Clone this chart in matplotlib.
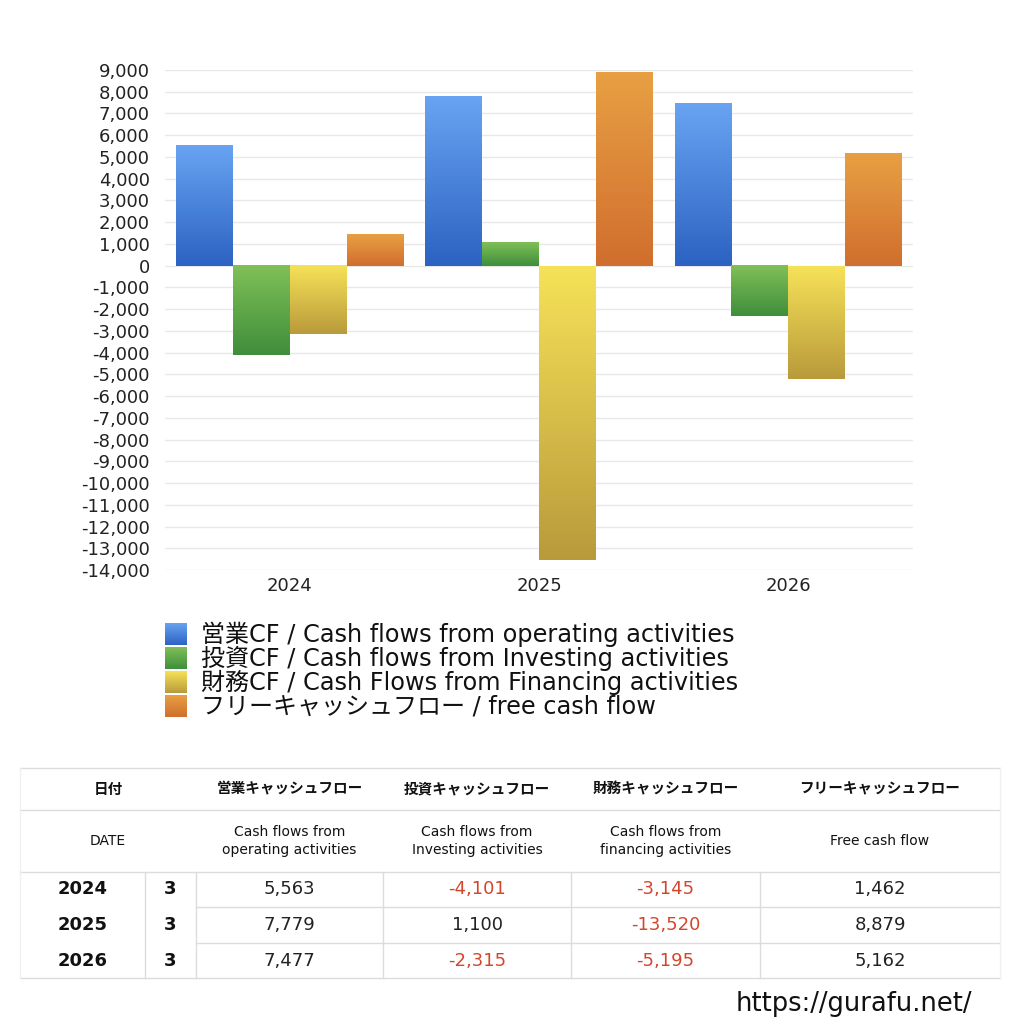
import numpy as np
import matplotlib
matplotlib.use("Agg")
import matplotlib.pyplot as plt
from matplotlib.colors import LinearSegmentedColormap
from matplotlib.ticker import FuncFormatter

plt.rcParams['font.family'] = ['DejaVu Sans', 'Noto Sans CJK JP']

# data
years = ["2024", "2025", "2026"]
months = ["3", "3", "3"]
operating = [5563, 7779, 7477]
investing = [-4101, 1100, -2315]
financing = [-3145, -13520, -5195]
free_cf = [1462, 8879, 5162]

legend_labels = [
    "営業CF / Cash flows from operating activities",
    "投資CF / Cash flows from Investing activities",
    "財務CF / Cash Flows from Financing activities",
    "フリーキャッシュフロー / free cash flow",
]
head_jp = ["日付", "営業キャッシュフロー", "投資キャッシュフロー", "財務キャッシュフロー", "フリーキャッシュフロー"]
head_en = ["DATE", "Cash flows from\noperating activities", "Cash flows from\nInvesting activities",
           "Cash flows from\nfinancing activities", "Free cash flow"]

# gradient colours (top, bottom)
grads = [("#68A4F2", "#2C62C2"), ("#80C058", "#3F8E3B"),
         ("#F6E258", "#B99A3B"), ("#E8A043", "#D06E2E")]

W = H = 1024
fig = plt.figure(figsize=(10.24, 10.24), dpi=100)


def px(x0, y0, x1, y1):
    # pixel box (top-left origin) -> figure fraction rect
    return [x0 / W, 1 - y1 / H, (x1 - x0) / W, (y1 - y0) / H]


ax = fig.add_axes(px(165, 70, 913, 570))
series = [operating, investing, financing, free_cf]
x = np.arange(len(years))
bw = 0.228
offsets = [-1.5 * bw, -0.5 * bw, 0.5 * bw, 1.5 * bw]
grad = np.linspace(0, 1, 256).reshape(-1, 1)
for vals, off, (c_top, c_bot) in zip(series, offsets, grads):
    cmap = LinearSegmentedColormap.from_list("g", [c_top, c_bot])
    bars = ax.bar(x + off, vals, bw, color="none", linewidth=0)
    for r in bars:
        x0, w = r.get_x(), r.get_width()
        y0, h = r.get_y(), r.get_height()
        top, bot = max(y0, y0 + h), min(y0, y0 + h)
        ax.imshow(grad, cmap=cmap, extent=(x0, x0 + w, bot, top),
                  aspect="auto", origin="upper", zorder=2)

ax.set_xlim(-0.5, 2.5)
ax.set_ylim(-14000, 9000)
ax.set_yticks(np.arange(-14000, 9001, 1000))
ax.yaxis.set_major_formatter(FuncFormatter(lambda v, p: f"{int(v):,}"))
ax.set_xticks(x)
ax.set_xticklabels(years)
ax.grid(axis="y", color="#e8e8e8", linewidth=1, zorder=0)
ax.set_axisbelow(True)
for s in ax.spines.values():
    s.set_visible(False)
ax.tick_params(axis="both", length=0, labelsize=13, colors="#222222")
ax.tick_params(axis="y", pad=11)
ax.tick_params(axis="x", pad=5)

# legend
for i, (lab, (c_top, c_bot)) in enumerate(zip(legend_labels, grads)):
    yc = 634 + i * 24
    lax = fig.add_axes(px(165, yc - 11, 187, yc + 11))
    lax.imshow(grad, cmap=LinearSegmentedColormap.from_list("g", [c_top, c_bot]),
               aspect="auto")
    lax.axis("off")
    fig.text(201 / W, 1 - yc / H, lab, fontsize=17.3, va="center", ha="left", color="#111111")

# table
tax = fig.add_axes([0, 0, 1, 1])
tax.set_xlim(0, W)
tax.set_ylim(H, 0)
tax.axis("off")
lc = "#dcdcdc"
cols = [20, 145, 196, 383, 571, 760, 1000]
rows = [768, 810, 872, 907, 943, 978]
for y in rows[:3] + [rows[-1]]:
    tax.plot([cols[0], cols[-1]], [y, y], color=lc, lw=1)
for y in rows[3:5]:
    tax.plot([cols[2], cols[-1]], [y, y], color=lc, lw=1)
for xv in cols[1:6]:
    tax.plot([xv, xv], [rows[2], rows[-1]], color=lc, lw=1)
tax.plot([cols[0], cols[0]], [rows[0], rows[-1]], color="#f0f0f0", lw=1)
tax.plot([cols[-1], cols[-1]], [rows[0], rows[-1]], color="#f0f0f0", lw=1)

hx = [(cols[0] + cols[2]) / 2] + [(cols[i] + cols[i + 1]) / 2 for i in range(2, 6)]
for xc, t in zip(hx, head_jp):
    tax.text(xc, (rows[0] + rows[1]) / 2, t, fontsize=10.5, fontweight="bold",
             ha="center", va="center", color="#111111")
for xc, t in zip(hx, head_en):
    tax.text(xc, (rows[1] + rows[2]) / 2, t, fontsize=10, ha="center", va="center",
             color="#111111", linespacing=1.45)

for i in range(len(years)):
    yc = (rows[2 + i] + rows[3 + i]) / 2
    tax.text((cols[0] + cols[1]) / 2, yc, years[i], fontsize=13, fontweight="bold",
             ha="center", va="center", color="#111111")
    tax.text((cols[1] + cols[2]) / 2, yc, months[i], fontsize=13, fontweight="bold",
             ha="center", va="center", color="#111111")
    for j, vals in enumerate(series):
        v = vals[i]
        tax.text((cols[2 + j] + cols[3 + j]) / 2, yc, f"{v:,}", fontsize=13,
                 ha="center", va="center", color="#D5452C" if v < 0 else "#222222")

tax.text(972, 1004, "https://gurafu.net/", fontsize=18.5,
         ha="right", va="center", color="#111111")

fig.savefig("out.png", dpi=100, facecolor="white")
